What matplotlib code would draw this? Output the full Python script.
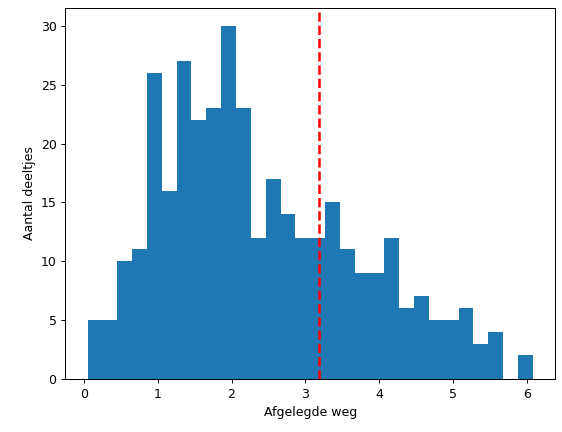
import numpy as np
import matplotlib
matplotlib.use("Agg")
import matplotlib.pyplot as plt

bin_start = 0.05
bin_width = 0.201
counts = [5, 5, 10, 11, 26, 16, 27, 22, 23, 30, 23, 12, 17, 14, 12,
          12, 15, 11, 9, 9, 12, 6, 7, 5, 5, 6, 3, 4, 0, 2]
mean_distance = 3.18

edges = bin_start + bin_width * np.arange(len(counts) + 1)
centers = (edges[:-1] + edges[1:]) / 2

fig, ax = plt.subplots(figsize=(6.255, 4.8), dpi=90)
fig.subplots_adjust(left=0.116, right=0.986, top=0.981, bottom=0.123)
ax.hist(centers, bins=edges, weights=counts, color="#1f77b4")
ax.axvline(mean_distance, color="red", linestyle="--", linewidth=2)
ax.set_xlabel("Afgelegde weg")
ax.set_ylabel("Aantal deeltjes")
fig.savefig("out.png", dpi=90)
